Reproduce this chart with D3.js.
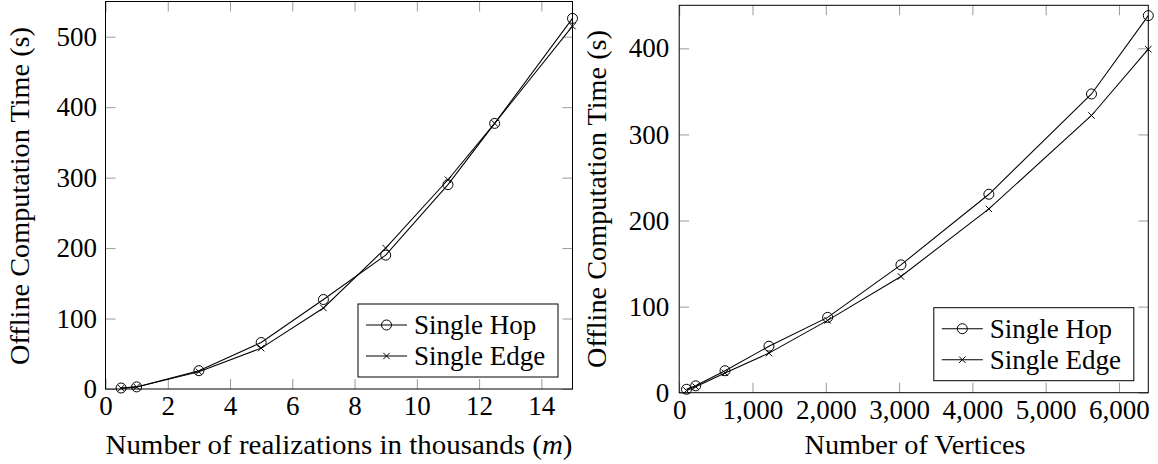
<!DOCTYPE html>
<html>
<head>
<meta charset="utf-8">
<script src="https://cdn.jsdelivr.net/npm/d3@7"></script>
<style>
  html, body { margin: 0; padding: 0; background: #fff; }
  svg { display: block; }
</style>
</head>
<body>
<svg id="chart" width="1158" height="464"></svg>
<script>
// left panel: time vs number of realizations (thousands)
const realizations = [0.5, 1, 3, 5, 7, 9, 11, 12.5, 15];
const hopByRealizations = [1.4, 3, 26, 66, 127, 190, 290, 377, 526];
const edgeByRealizations = [1.2, 3, 24.5, 58, 115, 200, 297, 377, 515];
const realizationTicks = [0, 2, 4, 6, 8, 10, 12, 14];
const leftTimeTicks = [0, 100, 200, 300, 400, 500];

// right panel: time vs number of vertices
const vertices = [100, 225, 625, 1225, 2025, 3025, 4225, 5625, 6400];
const hopByVertices = [4, 8, 25.5, 54, 87.5, 148.5, 230.5, 347, 438];
const edgeByVertices = [2.5, 7, 23, 46, 84, 135, 213.5, 322, 399];
const vertexTicks = [0, 1000, 2000, 3000, 4000, 5000, 6000];
const rightTimeTicks = [0, 100, 200, 300, 400];

const seriesNames = ["Single Hop", "Single Edge"];
const yLabel = "Offline Computation Time (s)";

const svg = d3.select("#chart");
svg.append("rect").attr("width", 1158).attr("height", 464).attr("fill", "#fff");

const fontSize = 27;
const serif = '"Liberation Serif"';
const tickLen = 10;

function setFont(sel) {
  sel.attr("font-family", null)
    .style("font-family", serif)
    .style("font-size", fontSize + "px");
}

function drawMark(g, type, cx, cy) {
  if (type === "o") {
    g.append("circle").attr("cx", cx).attr("cy", cy).attr("r", 5)
      .attr("fill", "none").attr("stroke", "#000").attr("stroke-width", 1);
  } else {
    const s = 3.2;
    g.append("path")
      .attr("d", `M${cx - s},${cy - s}L${cx + s},${cy + s}M${cx - s},${cy + s}L${cx + s},${cy - s}`)
      .attr("stroke", "#000").attr("stroke-width", 1);
  }
}

function panel(opts) {
  const { left, right, top, bottom, xDomain, yDomain, xs, series, xTicks, yTicks, xFormat,
          xLabel, xLabelWidth, xLabelX, yLabelX, yLabelY, yPad } = opts;
  const x = d3.scaleLinear().domain(xDomain).range([left, right]);
  const y = d3.scaleLinear().domain(yDomain).range([bottom, top]);
  const g = svg.append("g");

  // mirrored inward ticks
  const styleAxis = sel => {
    sel.attr("font-family", null).attr("font-size", null);
    sel.select(".domain").remove();
    sel.selectAll(".tick line").attr("stroke", "#9a9a9a").attr("stroke-width", 1);
    sel.selectAll(".tick text").attr("fill", "#000").call(setFont);
  };
  g.append("g").attr("transform", `translate(0,${bottom})`)
    .call(d3.axisBottom(x).tickValues(xTicks).tickSize(-tickLen).tickPadding(7).tickFormat(xFormat))
    .call(styleAxis);
  g.append("g").attr("transform", `translate(0,${top})`)
    .call(d3.axisTop(x).tickValues(xTicks).tickSize(-tickLen).tickFormat(""))
    .call(styleAxis);
  g.append("g").attr("transform", `translate(${left},0)`)
    .call(d3.axisLeft(y).tickValues(yTicks).tickSize(-tickLen).tickPadding(yPad))
    .call(styleAxis);
  g.append("g").attr("transform", `translate(${right},0)`)
    .call(d3.axisRight(y).tickValues(yTicks).tickSize(-tickLen).tickFormat(""))
    .call(styleAxis);

  // frame
  g.append("rect").attr("x", left).attr("y", top)
    .attr("width", right - left).attr("height", bottom - top)
    .attr("fill", "none").attr("stroke", "#000").attr("stroke-width", 1);

  // series
  const line = d3.line().x(d => x(d[0])).y(d => y(d[1]));
  series.forEach(s => {
    const pts = xs.map((v, i) => [v, s.values[i]]);
    g.append("path").datum(pts).attr("d", line)
      .attr("fill", "none").attr("stroke", "#000").attr("stroke-width", 1.05);
    pts.forEach(p => drawMark(g, s.mark, x(p[0]), y(p[1])));
  });

  // legend
  const lw = 200, lh = 73;
  const lx = right - 14.5 - lw, ly = bottom - 12 - lh;
  const lg = g.append("g").attr("transform", `translate(${lx},${ly})`);
  lg.append("rect").attr("width", lw).attr("height", lh)
    .attr("fill", "#fff").attr("stroke", "#000").attr("stroke-width", 1);
  series.forEach((s, i) => {
    const cy = 21 + i * 31;
    lg.append("line").attr("x1", 8).attr("x2", 49).attr("y1", cy).attr("y2", cy)
      .attr("stroke", "#000").attr("stroke-width", 1.05);
    drawMark(lg, s.mark, 28.5, cy);
    lg.append("text").attr("x", 56).attr("y", cy).attr("dy", "0.33em")
      .call(setFont).text(s.name);
  });

  // axis labels
  const xl = g.append("text").attr("x", xLabelX).attr("y", 454)
    .attr("text-anchor", "middle").call(setFont)
    .attr("textLength", xLabelWidth).attr("lengthAdjust", "spacingAndGlyphs");
  xLabel(xl);
  g.append("text")
    .attr("transform", `translate(${yLabelX},${yLabelY}) rotate(-90)`)
    .attr("text-anchor", "middle").attr("dy", "0.33em").call(setFont)
    .attr("textLength", 338).attr("lengthAdjust", "spacingAndGlyphs")
    .text(yLabel);
}

panel({
  left: 105.5, right: 572.5, top: 1.5, bottom: 389,
  xDomain: [0, 15], yDomain: [0, 550],
  xs: realizations,
  series: [
    { name: seriesNames[0], values: hopByRealizations, mark: "o" },
    { name: seriesNames[1], values: edgeByRealizations, mark: "x" }
  ],
  xTicks: realizationTicks, yTicks: leftTimeTicks, xFormat: d3.format("d"),
  xLabel: t => {
    t.append("tspan").text("Number of realizations in thousands (");
    t.append("tspan").style("font-style", "italic").text("m");
    t.append("tspan").text(")");
  },
  xLabelWidth: 467, xLabelX: 339, yLabelX: 20, yLabelY: 196, yPad: 8.5
});

panel({
  left: 679.2, right: 1148.3, top: 5.3, bottom: 392.7,
  xDomain: [0, 6400], yDomain: [0, 450],
  xs: vertices,
  series: [
    { name: seriesNames[0], values: hopByVertices, mark: "o" },
    { name: seriesNames[1], values: edgeByVertices, mark: "x" }
  ],
  xTicks: vertexTicks, yTicks: rightTimeTicks, xFormat: d3.format(","),
  xLabel: t => t.text("Number of Vertices"),
  xLabelWidth: 221, xLabelX: 915, yLabelX: 597, yLabelY: 199, yPad: 10
});
</script>
</body>
</html>
